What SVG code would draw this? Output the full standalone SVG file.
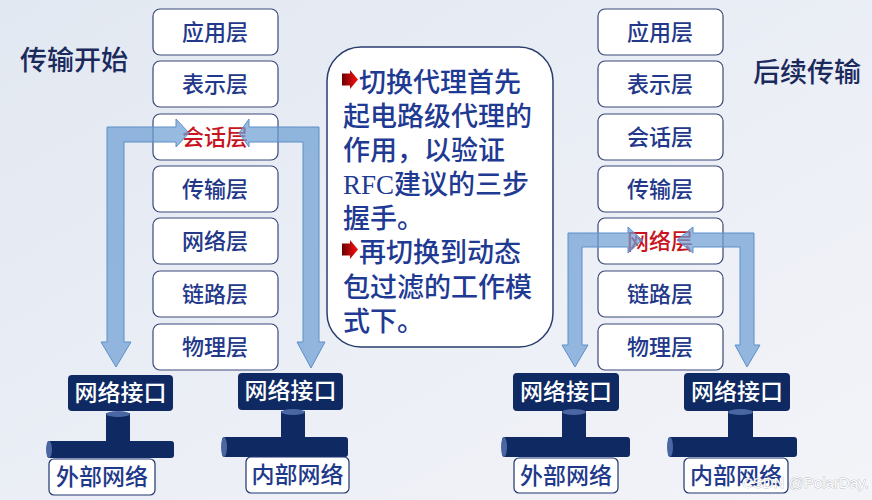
<svg xmlns="http://www.w3.org/2000/svg" width="872" height="500" viewBox="0 0 872 500">
<defs>
<linearGradient id="bg" x1="0" y1="0" x2="1" y2="1">
<stop offset="0" stop-color="#e2e8f1"/>
<stop offset="0.6" stop-color="#eceff6"/>
<stop offset="1" stop-color="#f3f4f8"/>
</linearGradient>
<linearGradient id="red" x1="0" y1="0" x2="1" y2="0">
<stop offset="0" stop-color="#6a0000"/>
<stop offset="1" stop-color="#ff1010"/>
</linearGradient>
<style>
.layer rect{fill:#ffffff;stroke:#3a4878;stroke-width:1.2}
.layer text{font-family:"Noto Sans CJK SC","Noto Sans",sans-serif;font-size:22px;font-weight:500;fill:#23388a;text-anchor:middle}
.layer text.hl{fill:#c8141e}
.title{font-family:"Noto Sans CJK SC","Noto Sans",sans-serif;font-size:27px;font-weight:500;fill:#1b2a5c}
.nic rect{fill:#0f2a63}
.nic text{font-family:"Noto Sans CJK SC","Noto Sans",sans-serif;font-size:23px;font-weight:500;fill:#ffffff;text-anchor:middle}
.pipe{fill:#0f2a63}
.cap{fill:#4a67a3}
.net rect{fill:#ffffff;stroke:#1f3470;stroke-width:1.2}
.net text{font-family:"Noto Sans CJK SC","Noto Sans",sans-serif;font-size:23px;font-weight:500;fill:#1f3a8a;text-anchor:middle}
.band{fill:#6f9fd4;fill-opacity:0.72;stroke:#5d8fc8;stroke-width:1}
.note text{font-family:"Noto Sans CJK SC","Noto Sans",sans-serif;font-size:27px;font-weight:500;fill:#1f3a93}
.note .rfc{font-family:"Liberation Serif",serif;font-weight:400}
</style>
</defs>
<rect x="0" y="0" width="872" height="500" fill="url(#bg)"/>

<text class="title" x="20" y="70">传输开始</text>
<text class="title" x="753" y="82">后续传输</text>

<g id="left-stack" class="layer">
<g id="l-app"><rect x="153" y="9" width="125" height="46" rx="7"/><text x="215" y="40">应用层</text></g>
<g id="l-pres"><rect x="153" y="61" width="125" height="46" rx="7"/><text x="215" y="92">表示层</text></g>
<g id="l-sess"><rect x="153" y="114" width="125" height="46" rx="7"/><text class="hl" x="215" y="145">会话层</text></g>
<g id="l-trans"><rect x="153" y="166" width="125" height="46" rx="7"/><text x="215" y="197">传输层</text></g>
<g id="l-net"><rect x="153" y="218" width="125" height="46" rx="7"/><text x="215" y="249">网络层</text></g>
<g id="l-link"><rect x="153" y="271" width="125" height="46" rx="7"/><text x="215" y="302">链路层</text></g>
<g id="l-phys"><rect x="153" y="324" width="125" height="46" rx="7"/><text x="215" y="355">物理层</text></g>
</g>

<g id="right-stack" class="layer">
<g id="r-app"><rect x="598" y="9" width="125" height="46" rx="7"/><text x="660" y="40">应用层</text></g>
<g id="r-pres"><rect x="598" y="61" width="125" height="46" rx="7"/><text x="660" y="92">表示层</text></g>
<g id="r-sess"><rect x="598" y="114" width="125" height="46" rx="7"/><text x="660" y="145">会话层</text></g>
<g id="r-trans"><rect x="598" y="166" width="125" height="46" rx="7"/><text x="660" y="197">传输层</text></g>
<g id="r-net"><rect x="598" y="218" width="125" height="46" rx="7"/><text class="hl" x="660" y="249">网络层</text></g>
<g id="r-link"><rect x="598" y="271" width="125" height="46" rx="7"/><text x="660" y="302">链路层</text></g>
<g id="r-phys"><rect x="598" y="324" width="125" height="46" rx="7"/><text x="660" y="355">物理层</text></g>
</g>

<g id="note" class="note">
<rect x="327" y="47" width="226" height="300" rx="34" fill="#ffffff" stroke="#2a3d6e" stroke-width="1.5"/>
<polygon points="342,73.5 350,73.5 350,70 358,79.5 350,89 350,85.5 342,85.5" fill="url(#red)"/>
<polygon points="342,243.5 350,243.5 350,240 358,249.5 350,259 350,255.5 342,255.5" fill="url(#red)"/>
<text x="359" y="92">切换代理首先</text>
<text x="343" y="126">起电路级代理的</text>
<text x="343" y="160">作用，以验证</text>
<text x="343" y="194"><tspan class="rfc">RFC</tspan>建议的三步</text>
<text x="343" y="228">握手。</text>
<text x="359" y="262">再切换到动态</text>
<text x="343" y="297">包过滤的工作模</text>
<text x="343" y="331">式下。</text>
</g>

<g id="nic-l1" class="nic"><rect x="68" y="375" width="105" height="36" rx="4"/><text x="120.5" y="401">网络接口</text></g>
<g id="nic-l2" class="nic"><rect x="238" y="373" width="105" height="37" rx="4"/><text x="290.5" y="399">网络接口</text></g>
<g id="nic-r1" class="nic"><rect x="513" y="373" width="106" height="38" rx="4"/><text x="566" y="400">网络接口</text></g>
<g id="nic-r2" class="nic"><rect x="684" y="373" width="106" height="38" rx="4"/><text x="737" y="400">网络接口</text></g>

<g id="pipe-l1">
<rect class="pipe" x="106" y="413" width="24" height="31"/>
<ellipse class="cap" cx="118" cy="414" rx="12" ry="3"/>
<rect class="pipe" x="47" y="441" width="127" height="17" rx="3"/>
<ellipse class="cap" cx="49" cy="449.5" rx="3" ry="8.5"/>
</g>
<g id="pipe-l2">
<rect class="pipe" x="281" y="411" width="24" height="29"/>
<ellipse class="cap" cx="293" cy="412" rx="12" ry="3"/>
<rect class="pipe" x="222" y="437" width="126" height="20" rx="3"/>
<ellipse class="cap" cx="224" cy="447" rx="3" ry="10"/>
</g>
<g id="pipe-r1">
<rect class="pipe" x="562" y="411" width="24" height="29"/>
<ellipse class="cap" cx="574" cy="412" rx="12" ry="3"/>
<rect class="pipe" x="502" y="437" width="128" height="20" rx="3"/>
<ellipse class="cap" cx="504" cy="447" rx="3" ry="10"/>
</g>
<g id="pipe-r2">
<rect class="pipe" x="728" y="411" width="25" height="29"/>
<ellipse class="cap" cx="740.5" cy="412" rx="12.5" ry="3"/>
<rect class="pipe" x="668" y="437" width="129" height="20" rx="3"/>
<ellipse class="cap" cx="670" cy="447" rx="3" ry="10"/>
</g>

<g id="net-l1" class="net"><rect x="49" y="459" width="106" height="36" rx="5"/><text x="102" y="485">外部网络</text></g>
<g id="net-l2" class="net"><rect x="246" y="457" width="103" height="36" rx="5"/><text x="297.5" y="483">内部网络</text></g>
<g id="net-r1" class="net"><rect x="514" y="458" width="104" height="35" rx="5"/><text x="566" y="484">外部网络</text></g>
<g id="net-r2" class="net"><rect x="684" y="458" width="104" height="35" rx="5"/><text x="736" y="484">内部网络</text></g>

<g id="connectors">
<polygon class="band" points="189,133 176,119 176,127 107,127 107,342 101,342 116,367 131,342 124,342 124,142 176,142 176,147"/>
<polygon class="band" points="239,133 249,119 249,127 319,127 319,342 325,342 311,368 297,342 303,342 303,142 249,142 249,147"/>
<polygon class="band" points="642,240 628,227 628,233 568,233 568,345 562,345 575,367 588,345 582,345 582,247 628,247 628,253"/>
<polygon class="band" points="677,240 693,227 693,233 754,233 754,345 760,345 747,367 735,345 740,345 740,247 693,247 693,253"/>
</g>

<text x="742" y="488" font-family="Liberation Sans, Arial, sans-serif" font-size="15" fill="#ffffff" stroke="#8a8f99" stroke-width="0.5" paint-order="stroke">CSDN @PolarDay.</text>
</svg>
